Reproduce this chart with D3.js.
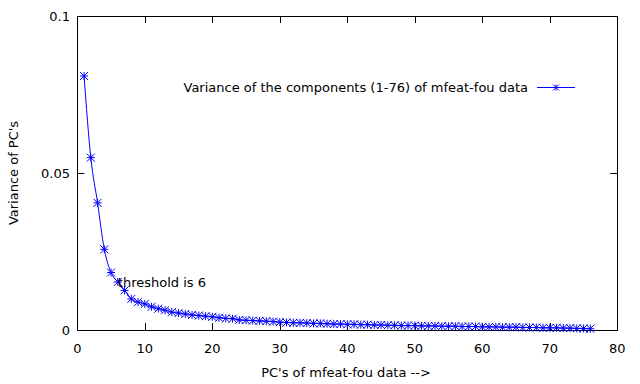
<!DOCTYPE html>
<html><head><meta charset="utf-8">
<script src="https://cdn.jsdelivr.net/npm/d3@7"></script>
<style>
body{margin:0;background:#fff;}
svg text{font-family:"DejaVu Sans",sans-serif;font-size:13px;fill:#000;}
</style></head>
<body><svg id="c" width="640" height="384"></svg>
<script>
const components = d3.range(1, 77);
const variances = [
 0.0809,0.0549,0.0405,0.0257,0.0183,0.0153,0.0126,0.0099,0.0089,0.0083,
 0.0074,0.0068,0.0063,0.0057,0.0054,0.0051,0.0048,0.0046,0.0044,0.0042,
 0.0039,0.0037,0.0036,0.0032,0.0031,0.0030,0.0029,0.0028,0.0027,0.0025,
 0.0024,0.0023,0.0023,0.0022,0.0021,0.0021,0.0020,0.0019,0.0019,0.0018,
 0.0018,0.0017,0.0017,0.0016,0.0016,0.0015,0.0015,0.0014,0.0014,0.0014,
 0.0013,0.0013,0.0013,0.0012,0.0012,0.0012,0.0011,0.0011,0.0011,0.0010,
 0.0010,0.0010,0.0009,0.0009,0.0009,0.0008,0.0008,0.0008,0.0007,0.0007,
 0.0007,0.0006,0.0006,0.0005,0.0005,0.0004];
const xTicks = [0,10,20,30,40,50,60,70,80];
const yTicks = [0,0.05,0.1];
const seriesLabel = "Variance of the components (1-76) of mfeat-fou data";
const annotation = {x: 6, y: 0.0137, text: "threshold is 6"};

const svg = d3.select("#c");
const L=77.3, R=617.3, T=16, B=330;
const x = d3.scaleLinear().domain([0,80]).range([L,R]);
const y = d3.scaleLinear().domain([0,0.1]).range([B,T]);
const color = "#0000ff";

// ticks (inward, mirrored)
const tl = 7;
const g = svg.append("g").attr("stroke","#000").attr("stroke-width",1);
xTicks.forEach(t=>{
  const px = Math.round(x(t))+0.5;
  g.append("line").attr("x1",px).attr("x2",px).attr("y1",B).attr("y2",B-tl);
  g.append("line").attr("x1",px).attr("x2",px).attr("y1",T).attr("y2",T+tl);
});
yTicks.forEach(t=>{
  const py = Math.round(y(t))+0.5;
  g.append("line").attr("x1",L).attr("x2",L+tl).attr("y1",py).attr("y2",py);
  g.append("line").attr("x1",R).attr("x2",R-tl).attr("y1",py).attr("y2",py);
});
svg.append("rect").attr("x",Math.round(L)+0.5).attr("y",T+0.5)
  .attr("width",Math.round(R)-Math.round(L)).attr("height",B-T)
  .attr("fill","none").attr("stroke","#000").attr("stroke-width",1);

// tick labels
xTicks.forEach(t=>{
  svg.append("text").attr("x",x(t)).attr("y",353).attr("text-anchor","middle").text(t);
});
yTicks.forEach(t=>{
  svg.append("text").attr("x",70).attr("y",y(t)+5).attr("text-anchor","end").text(t);
});

// axis titles
svg.append("text").attr("x",346).attr("y",377).attr("text-anchor","middle").text("PC's of mfeat-fou data -->");
svg.append("text").attr("transform","translate(18,173) rotate(-90)").attr("text-anchor","middle").text("Variance of PC's");

// data
const data = components.map((c,i)=>({c, v: variances[i]}));
const line = d3.line().x(d=>x(d.c)).y(d=>y(d.v)).curve(d3.curveMonotoneX);
svg.append("path").datum(data).attr("d",line).attr("fill","none").attr("stroke",color).attr("stroke-width",1);

function star(sel, cx, cy, s){
  const p = `M${cx-s},${cy}H${cx+s}M${cx},${cy-s}V${cy+s}M${cx-s},${cy-s}L${cx+s},${cy+s}M${cx-s},${cy+s}L${cx+s},${cy-s}`;
  sel.append("path").attr("d",p).attr("stroke",color).attr("stroke-width",1).attr("fill","none");
}
const pts = svg.append("g");
data.forEach(d=>star(pts, x(d.c), y(d.v), 4));

// annotation
svg.append("text").attr("x",x(annotation.x)).attr("y",y(annotation.y)).text(annotation.text);

// legend
svg.append("text").attr("x",528).attr("y",92).attr("text-anchor","end").text(seriesLabel);
svg.append("line").attr("x1",537).attr("x2",575).attr("y1",87.5).attr("y2",87.5).attr("stroke",color);
star(svg, 556, 87.5, 3);
</script></body></html>
